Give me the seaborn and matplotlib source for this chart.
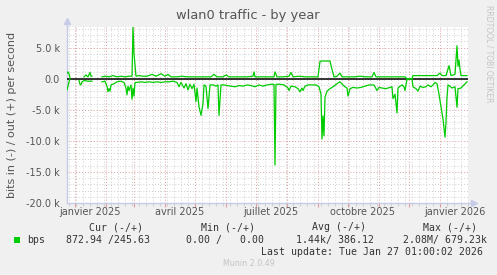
import numpy as np
import pandas as pd
import matplotlib
matplotlib.use("Agg")
import matplotlib.pyplot as plt
import matplotlib.dates as mdates
import matplotlib.ticker as mticker
import matplotlib.transforms as mtransforms
from matplotlib.patches import Rectangle
import seaborn as sns

# ---------------- data ----------------
START = pd.Timestamp("2024-12-24 07:00")   # left edge of the graph
SPAN_DAYS = 401                            # width of the graph in days

# outgoing traffic (+), kbit/s, at day offsets from START (nan = no data)
out_days = [0, 1, 2, 3, 4, 17, 19, 21, 23, 24, 25, 26, 35, 38, 42, 46, 50, 54, 58, 62,
            65, 66, 67, 68, 69, 72, 76, 80, 85, 89, 94, 98, 101, 104, 110, 115, 120, 126,
            132, 138, 144, 147, 150, 156, 159, 162, 168, 174, 180, 186, 187, 188, 194, 200,
            207, 208, 210, 216, 222, 224, 226, 232, 238, 244, 251, 253, 255, 263, 265, 267,
            270, 273, 275, 281, 287, 293, 299, 305, 307, 309, 315, 321, 327, 333, 338, 340,
            345, 346, 352, 358, 364, 370, 373, 375, 379, 382, 384, 388, 390, 391, 392, 393,
            394, 400]
out_kbps = [0.9, 1.1, 0.8, 0.1, np.nan, 0.3, 0.6, 0.3, 1.0, 0.4, 0.4, np.nan, 0.3, 0.4, 0.3,
            0.5, 0.3, 0.4, 0.3, 0.4, 0.4, 8.3, 4.0, 2.2, 0.4, 0.5, 0.4, 0.4, 0.7, 0.4, 0.8,
            0.4, 0.7, 0.3, 0.3, 0.4, 0.3, 0.3, 0.3, 0.3, 0.3, 0.7, 0.3, 0.3, 0.6, 0.3, 0.3,
            0.3, 0.3, 0.4, 1.1, 0.3, 0.3, 0.3, 0.3, 1.1, 0.3, 0.3, 0.4, 1.0, 0.3, 0.4, 0.3,
            0.3, 0.3, 2.8, 2.85, 2.85, 1.5, 0.3, 0.4, 0.9, 0.3, 0.3, 0.3, 0.4, 0.3, 0.3, 1.0,
            0.3, 0.3, 0.3, 0.3, 0.3, 0.3, 0.0, 0.0, 0.5, 0.5, 0.5, 0.5, 0.5, 0.9, 0.5, 0.5,
            2.1, 0.5, 0.7, 5.3, 2.0, 3.0, 1.5, 0.5, 0.5]

# incoming traffic (-), kbit/s, at day offsets from START (nan = no data)
in_days = [0, 1, 2, 3, 4, 12, 13, 14, 15, 17, 21, 25, 26, 35, 38, 40, 41, 42, 43, 44, 47,
           50, 54, 57, 59, 60, 61, 62, 64, 65, 66, 67, 68, 70, 74, 78, 82, 86, 90, 94, 98,
           102, 106, 110, 112, 114, 117, 119, 121, 123, 125, 127, 129, 130, 132, 134, 136,
           137, 139, 141, 143, 146, 149, 151, 152, 154, 157, 160, 164, 168, 172, 176, 180,
           184, 188, 192, 196, 200, 204, 207, 208, 209, 213, 217, 221, 222, 224, 228, 231,
           233, 235, 236, 238, 241, 245, 249, 252, 254, 255, 256, 257, 258, 260, 263, 266,
           270, 273, 276, 278, 280, 281, 283, 286, 290, 294, 298, 302, 305, 307, 310, 312,
           315, 319, 323, 325, 326, 328, 330, 331, 333, 335, 337, 338, 340, 345, 346, 349,
           351, 353, 356, 359, 361, 364, 366, 368, 370, 372, 374, 376, 378, 379, 380, 381,
           383, 385, 388, 390, 391, 394, 397, 400]
in_kbps = [-1.8, -1.2, -0.5, -0.1, np.nan, -0.3, -0.9, -1.0, -0.5, -0.3, -0.4, -0.4, np.nan,
           -0.5, -0.4, -1.2, -2.1, -1.6, -2.0, -1.0, -0.8, -0.5, -0.4, -0.6, -1.5, -2.6,
           -1.2, -1.9, -1.0, -3.3, -1.5, -2.8, -0.6, -0.6, -0.5, -0.6, -0.5, -0.6, -0.5,
           -0.6, -0.5, -0.5, -0.4, -0.6, -1.3, -0.6, -1.5, -0.8, -1.8, -0.9, -1.6, -0.9,
           -3.7, -1.5, -4.5, -5.9, -4.0, -1.0, -1.2, -4.8, -1.0, -1.0, -1.2, -1.0, -5.9,
           -1.0, -1.0, -1.1, -1.2, -1.3, -1.1, -1.2, -1.0, -1.1, -1.3, -1.0, -1.2, -1.0,
           -0.9, -0.9, -13.9, -0.9, -0.9, -1.0, -1.5, -1.9, -1.2, -1.3, -1.6, -2.1, -1.5,
           -1.9, -1.2, -1.0, -1.0, -1.0, -1.3, -2.5, -9.7, -6.0, -9.2, -3.0, -2.0, -1.6,
           -1.3, -0.8, -0.5, -1.0, -1.3, -1.5, -2.8, -1.6, -1.4, -1.5, -1.4, -1.2, -1.0,
           -1.0, -1.0, -1.9, -1.4, -1.5, -1.6, -1.4, -1.3, -3.2, -2.5, -5.5, -1.5, -1.2,
           -1.0, -1.3, -1.9, -0.1, 0.0, -1.3, -1.6, -2.0, -1.2, -1.4, -1.3, -1.0, -1.3,
           -1.0, -0.6, -0.8, -2.5, -4.5, -6.5, -9.4, -7.0, -3.0, -1.0, -1.2, -1.5, -1.3,
           -4.6, -1.6, -1.5, -1.0, -0.5]

x_label_dates = ["2025-01-16", "2025-04-16", "2025-07-16", "2025-10-16", "2026-01-16"]
x_labels = ["janvier 2025", "avril 2025", "juillet 2025", "octobre 2025", "janvier 2026"]
y_ticks = [5000, 0, -5000, -10000, -15000, -20000]
y_tick_labels = ["5.0 k", "0.0", "-5.0 k", "-10.0 k", "-15.0 k", "-20.0 k"]
y_limits = (-20000, 8320)

title = "wlan0 traffic - by year"
y_title = "bits in (-) / out (+) per second"
series_name = "bps"
legend_headers = ["Cur (-/+)", "Min (-/+)", "Avg (-/+)", "Max (-/+)"]
legend_values = ["872.94 /245.63", "0.00 /   0.00", "1.44k/ 386.12", "2.08M/ 679.23k"]
last_update = "Last update: Tue Jan 27 01:00:02 2026"
footer = "Munin 2.0.49"
watermark = "RRDTOOL / TOBI OETIKER"

# ---------------- styling ----------------
W, H = 497, 275
BG = "#F0F0F0"
GREEN = "#00CC00"
MAJ = "#DE9C9C"
MIN = "#CFCFCF"
AXC = "#C6CCE8"
TXT = "#555555"

plt.rcParams["font.family"] = ["DejaVu Sans"]

def fx(px):
    return px / W

def fy(py):
    return 1 - py / H


def frame(days, vals):
    df = pd.DataFrame({"days": days, "v": np.array(vals, dtype=float) * 1000.0})
    df["seg"] = df["v"].isna().cumsum()
    df = df.dropna()
    df["date"] = START + pd.to_timedelta(df["days"], unit="D")
    return df

df_out = frame(out_days, out_kbps)
df_in = frame(in_days, in_kbps)

fig = plt.figure(figsize=(W / 100, H / 100), dpi=100, facecolor=BG)
ax = fig.add_axes([fx(67), fy(203), fx(468) - fx(67), fy(27) - fy(203)])
ax.set_facecolor("white")

ax.set_xlim(START, START + pd.Timedelta(days=SPAN_DAYS))
ax.set_ylim(*y_limits)

# grid
ax.xaxis.set_major_locator(mdates.MonthLocator())
ax.xaxis.set_minor_locator(mdates.WeekdayLocator(byweekday=mdates.TH))
ax.xaxis.set_major_formatter(mticker.NullFormatter())
ax.set_yticks(y_ticks)
ax.set_yticklabels(y_tick_labels)
ax.yaxis.set_minor_locator(mticker.MultipleLocator(1000))
ax.grid(which="minor", color=MIN, linestyle=(0, (1, 2)), linewidth=0.7)
ax.grid(which="major", color=MAJ, linestyle=(0, (1, 2)), linewidth=0.7)
ax.set_axisbelow(True)

ax.tick_params(axis="y", which="both", length=0, pad=5, labelsize=7, labelcolor=TXT)
ax.tick_params(axis="x", which="major", length=3, color=MAJ, width=0.8)
ax.tick_params(axis="x", which="minor", length=2, color=MIN, width=0.8)

for s in ("top", "right"):
    ax.spines[s].set_visible(False)
for s in ("left", "bottom"):
    ax.spines[s].set_color(AXC)
    ax.spines[s].set_linewidth(1.0)

# data
ax.axhline(0, color="black", linewidth=1.1, zorder=3)
sns.lineplot(data=df_out, x="date", y="v", units="seg", estimator=None, color=GREEN,
             linewidth=0.9, ax=ax, zorder=4)
sns.lineplot(data=df_in, x="date", y="v", units="seg", estimator=None, color=GREEN,
             linewidth=0.9, ax=ax, zorder=4)
ax.set_xlabel("")
ax.set_ylabel("")

# axis arrows
ax.plot([0, 0], [1, 1.03], color=AXC, lw=1.0, transform=ax.transAxes, clip_on=False)
ax.plot([0], [1.035], marker="^", ms=4.5, color=AXC, transform=ax.transAxes, clip_on=False)
ax.plot([1, 1.012], [0, 0], color=AXC, lw=1.0, transform=ax.transAxes, clip_on=False)
ax.plot([1.014], [0], marker=">", ms=4.5, color=AXC, transform=ax.transAxes, clip_on=False)

# x labels (centred mid-month)
blend = mtransforms.blended_transform_factory(ax.transData, ax.transAxes)
for d, lab in zip(x_label_dates, x_labels):
    ax.text(mdates.date2num(pd.Timestamp(d)), -0.025, lab, transform=blend,
            ha="center", va="top", fontsize=7, color=TXT)

# titles
fig.text(fx(248), fy(15), title, ha="center", va="center", fontsize=9.4, color=TXT)
fig.text(fx(12), fy(115), y_title, ha="center", va="center", rotation=90,
         fontsize=8, color=TXT)
fig.text(fx(489.5), fy(5), watermark, ha="center", va="top", rotation=270,
         fontsize=5.5, color="#C4C4C4")

# legend
MONO = "DejaVu Sans Mono"
LC = "#333333"
fig.patches.append(Rectangle((fx(14), fy(243)), fx(6), 6 / H, transform=fig.transFigure,
                             facecolor=GREEN, edgecolor="none"))
fig.text(fx(27), fy(240), series_name, family=MONO, fontsize=7.1, color=LC,
         ha="left", va="center")
for xh, h in zip([89, 201, 312, 423], legend_headers):
    fig.text(fx(xh), fy(227), h, family=MONO, fontsize=7.1, color=LC, ha="left", va="center")
for xv, v in zip([66, 186, 296, 403], legend_values):
    fig.text(fx(xv), fy(240), v, family=MONO, fontsize=7.1, color=LC, ha="left", va="center")
fig.text(fx(483), fy(252), last_update, family=MONO, fontsize=7.1, color=LC,
         ha="right", va="center")
fig.text(fx(223), fy(263), footer, fontsize=5.8, color="#C4C4C4", ha="left", va="center")

fig.savefig("out.png", dpi=100, facecolor=BG)
